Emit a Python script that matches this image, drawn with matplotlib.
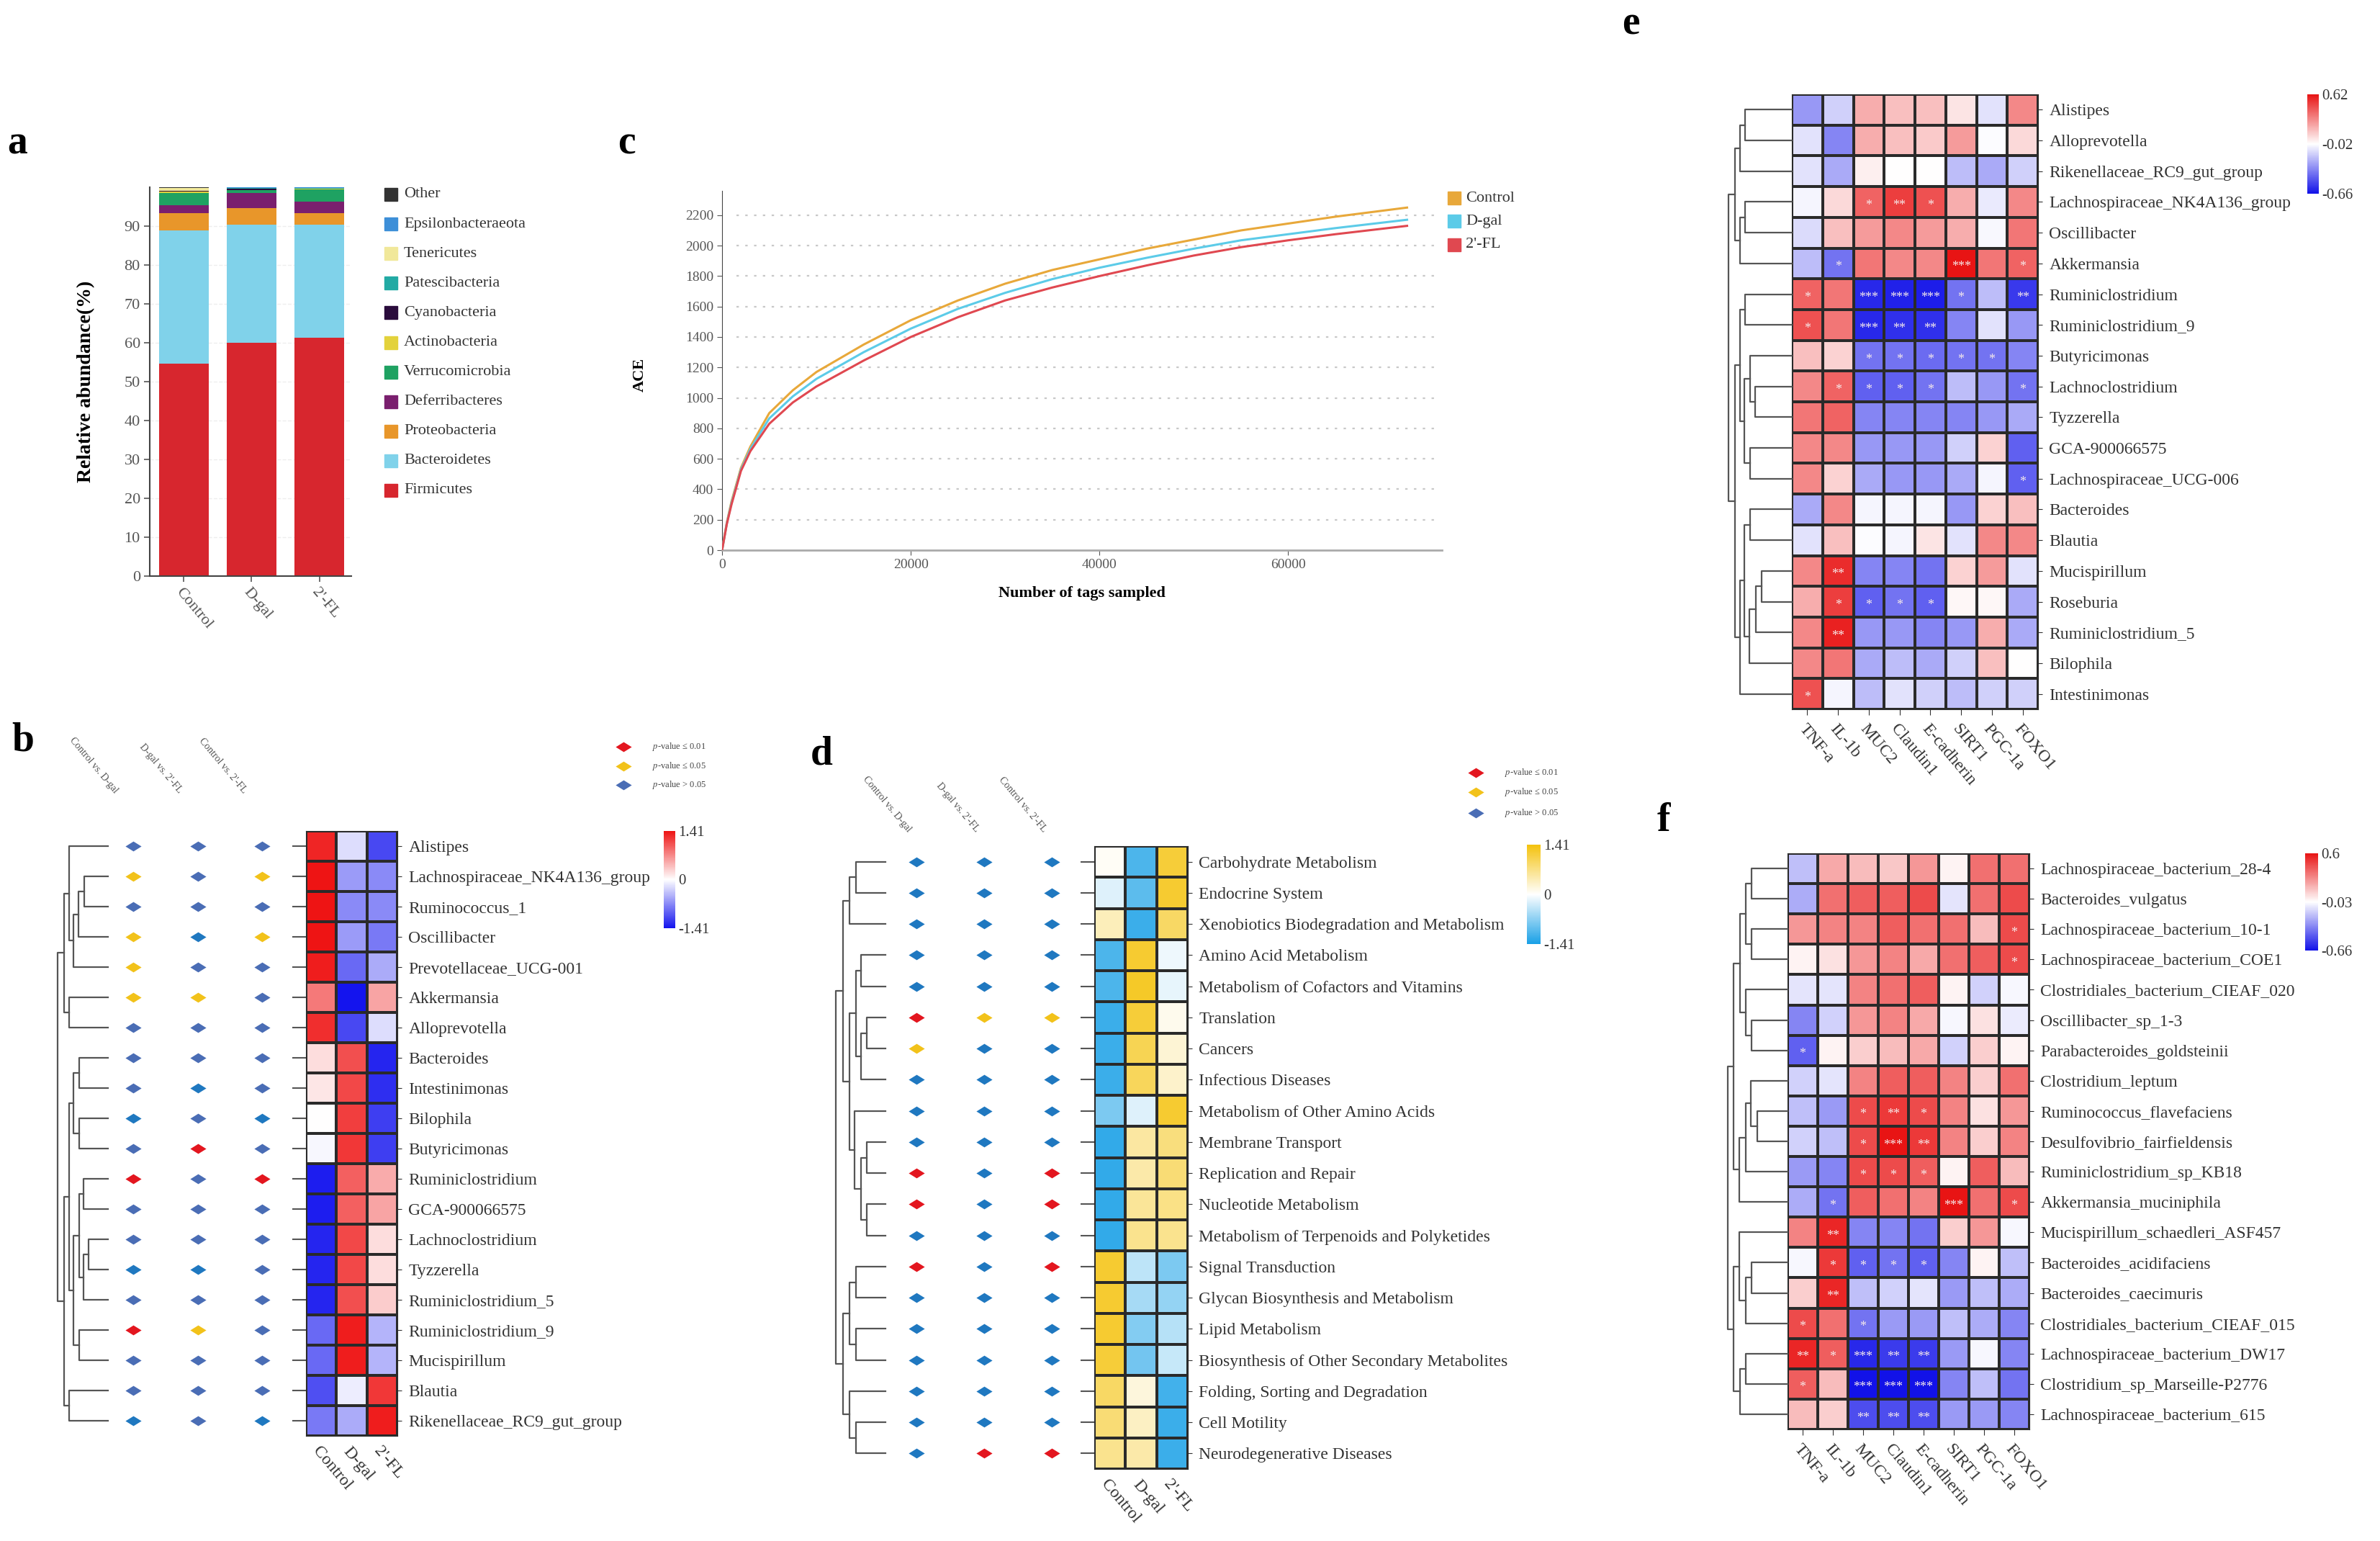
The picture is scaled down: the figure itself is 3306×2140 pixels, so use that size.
#importing modules
import numpy as np
import matplotlib
matplotlib.use('Agg')
import matplotlib.pyplot as plt
from matplotlib.colors import LinearSegmentedColormap, Normalize, TwoSlopeNorm
from matplotlib.cm import ScalarMappable
from matplotlib.patches import Rectangle

plt.rcParams['font.family'] = ['Liberation Serif', 'DejaVu Serif']
plt.rcParams['mathtext.fontset'] = 'stix'

# ---------------- data ----------------
groups = ['Control', 'D-gal', "2'-FL"]

# panel a: phylum relative abundance (%), bottom to top
phyla = ['Firmicutes', 'Bacteroidetes', 'Proteobacteria', 'Deferribacteres', 'Verrucomicrobia',
         'Actinobacteria', 'Cyanobacteria', 'Patescibacteria', 'Tenericutes', 'Epsilonbacteraeota', 'Other']
firmicutes = [54.6, 60.0, 61.3]
bacteroidetes = [34.3, 30.4, 29.0]
proteobacteria = [4.4, 4.2, 3.1]
deferribacteres = [2.0, 4.0, 2.9]
verrucomicrobia = [3.3, 0.6, 3.2]
actinobacteria = [0.3, 0.1, 0.1]
cyanobacteria = [0.1, 0.4, 0.1]
patescibacteria = [0.1, 0.1, 0.1]
tenericutes = [0.7, 0.1, 0.1]
epsilonbacteraeota = [0.1, 0.05, 0.05]
other = [0.1, 0.05, 0.05]
phylum_vals = [firmicutes, bacteroidetes, proteobacteria, deferribacteres, verrucomicrobia,
               actinobacteria, cyanobacteria, patescibacteria, tenericutes, epsilonbacteraeota, other]
phylum_colors = ['#d7262e', '#80d2ea', '#e8962a', '#7a1f6e', '#1fa262',
                 '#e3d23c', '#2a0c3c', '#22aaa4', '#f1e89a', '#3d8fd8', '#333333']

# panel c: ACE rarefaction
tags = [0, 500, 1000, 2000, 3000, 5000, 7500, 10000, 15000, 20000, 25000, 30000,
        35000, 40000, 45000, 50000, 55000, 60000, 65000, 72600]
ace_control = [0, 180, 320, 540, 680, 900, 1050, 1170, 1350, 1510, 1640, 1750,
               1840, 1910, 1980, 2040, 2100, 2145, 2190, 2250]
ace_dgal = [0, 175, 310, 530, 665, 865, 1010, 1125, 1300, 1455, 1585, 1690,
            1780, 1855, 1920, 1980, 2035, 2075, 2115, 2170]
ace_2fl = [0, 170, 300, 520, 650, 830, 970, 1075, 1245, 1400, 1530, 1640,
           1725, 1800, 1870, 1935, 1990, 2035, 2075, 2130]

# panel b: genus z-scores
rows_b = ['Alistipes', 'Lachnospiraceae_NK4A136_group', 'Ruminococcus_1', 'Oscillibacter',
          'Prevotellaceae_UCG-001', 'Akkermansia', 'Alloprevotella', 'Bacteroides', 'Intestinimonas',
          'Bilophila', 'Butyricimonas', 'Ruminiclostridium', 'GCA-900066575', 'Lachnoclostridium',
          'Tyzzerella', 'Ruminiclostridium_5', 'Ruminiclostridium_9', 'Mucispirillum', 'Blautia',
          'Rikenellaceae_RC9_gut_group']
b_control = [1.3, 1.4, 1.4, 1.4, 1.35, 0.8, 1.25, 0.2, 0.15, 0.0, -0.05, -1.35, -1.35, -1.3,
             -1.3, -1.3, -0.9, -0.9, -1.05, -0.8]
b_dgal = [-0.2, -0.6, -0.7, -0.6, -0.9, -1.4, -1.1, 1.05, 1.1, 1.15, 1.2, 0.95, 0.95, 1.1,
          1.1, 1.05, 1.35, 1.35, -0.1, -0.5]
b_2fl = [-1.1, -0.7, -0.7, -0.8, -0.5, 0.55, -0.2, -1.3, -1.25, -1.15, -1.15, 0.5, 0.55, 0.2,
         0.2, 0.3, -0.45, -0.45, 1.2, 1.35]
sig_b = ['bbb', 'yby', 'bbb', 'yty', 'ybb', 'yyb', 'bbb', 'bbb', 'btb', 'tbt',
         'brb', 'rbr', 'bbb', 'bbb', 'ttb', 'bbb', 'ryb', 'bbb', 'bbb', 'tbt']
tree_b = ((((0, (((1, 2, .47), 3, .58), 4, .68), .77)), (5, 6, .77), .87),
          ((((7, 8, .57), (9, 10, .57), .68),
            (((11, 12, .48), ((13, 14, .38), 15, .48), .57), (16, 17, .57), .68), .77),
           (18, 19, .77), .87), 1.0)

# panel d: KEGG pathway z-scores
rows_d = ['Carbohydrate Metabolism', 'Endocrine System', 'Xenobiotics Biodegradation and Metabolism',
          'Amino Acid Metabolism', 'Metabolism of Cofactors and Vitamins', 'Translation', 'Cancers',
          'Infectious Diseases', 'Metabolism of Other Amino Acids', 'Membrane Transport',
          'Replication and Repair', 'Nucleotide Metabolism', 'Metabolism of Terpenoids and Polyketides',
          'Signal Transduction', 'Glycan Biosynthesis and Metabolism', 'Lipid Metabolism',
          'Biosynthesis of Other Secondary Metabolites', 'Folding, Sorting and Degradation',
          'Cell Motility', 'Neurodegenerative Diseases']
d_control = [0.05, -0.2, 0.4, -1.1, -1.1, -1.2, -1.2, -1.2, -0.8, -1.25, -1.25, -1.25, -1.25,
             1.2, 1.2, 1.2, 1.15, 0.9, 0.8, 0.65]
d_dgal = [-1.1, -1.0, -1.2, 1.2, 1.25, 1.15, 1.0, 0.95, -0.2, 0.55, 0.5, 0.6, 0.65,
          -0.4, -0.55, -0.75, -0.85, 0.2, 0.35, 0.5]
d_2fl = [1.15, 1.2, 0.9, -0.1, -0.15, 0.1, 0.25, 0.3, 1.2, 0.75, 0.8, 0.7, 0.65,
         -0.8, -0.65, -0.45, -0.35, -1.15, -1.2, -1.2]
sig_d = ['ttt', 'ttt', 'ttt', 'ttt', 'ttt', 'ryy', 'ytt', 'ttt', 'ttt', 'ttt',
         'rtr', 'rtr', 'ttt', 'rtr', 'ttt', 'ttt', 'ttt', 'ttt', 'ttt', 'trr']
tree_d = ((((0, 1, .6), 2, .73),
           (((3, 4, .49), ((5, 6, .37), 7, .49), .6),
            (8, ((9, 10, .37), (11, 12, .37), .49), .63), .73), .86),
          ((((13, 14, .6), (15, 16, .6), .72)), (17, (18, 19, .6), .72), .86), 1.0)

# panels e, f: Spearman correlations with host genes
genes = ['TNF-a', 'IL-1b', 'MUC2', 'Claudin1', 'E-cadherin', 'SIRT1', 'PGC-1a', 'FOXO1']
rows_e = ['Alistipes', 'Alloprevotella', 'Rikenellaceae_RC9_gut_group', 'Lachnospiraceae_NK4A136_group',
          'Oscillibacter', 'Akkermansia', 'Ruminiclostridium', 'Ruminiclostridium_9', 'Butyricimonas',
          'Lachnoclostridium', 'Tyzzerella', 'GCA-900066575', 'Lachnospiraceae_UCG-006', 'Bacteroides',
          'Blautia', 'Mucispirillum', 'Roseburia', 'Ruminiclostridium_5', 'Bilophila', 'Intestinimonas']
corr_e = [[-0.3, -0.15, 0.2, 0.15, 0.15, 0.05, -0.1, 0.3],
          [-0.1, -0.35, 0.2, 0.15, 0.12, 0.25, -0.03, 0.08],
          [-0.1, -0.25, 0.02, -0.02, -0.02, -0.2, -0.25, -0.15],
          [-0.05, 0.08, 0.4, 0.5, 0.45, 0.2, -0.08, 0.3],
          [-0.12, 0.15, 0.25, 0.3, 0.25, 0.2, -0.04, 0.35],
          [-0.2, -0.4, 0.35, 0.3, 0.3, 0.62, 0.35, 0.4],
          [0.4, 0.35, -0.6, -0.62, -0.63, -0.4, -0.2, -0.55],
          [0.45, 0.35, -0.6, -0.58, -0.58, -0.35, -0.1, -0.3],
          [0.15, 0.1, -0.4, -0.4, -0.42, -0.4, -0.4, -0.35],
          [0.3, 0.4, -0.45, -0.45, -0.4, -0.2, -0.3, -0.4],
          [0.35, 0.4, -0.35, -0.35, -0.35, -0.35, -0.3, -0.25],
          [0.3, 0.3, -0.3, -0.3, -0.3, -0.15, 0.1, -0.45],
          [0.3, 0.1, -0.25, -0.3, -0.3, -0.25, -0.05, -0.45],
          [-0.25, 0.3, -0.05, -0.05, -0.05, -0.3, 0.1, 0.15],
          [-0.1, 0.15, -0.03, -0.05, 0.05, -0.1, 0.3, 0.3],
          [0.3, 0.55, -0.35, -0.35, -0.4, 0.1, 0.25, -0.1],
          [0.2, 0.5, -0.45, -0.4, -0.45, 0.0, 0.0, -0.25],
          [0.3, 0.58, -0.3, -0.3, -0.35, -0.3, 0.2, -0.25],
          [0.3, 0.35, -0.25, -0.2, -0.25, -0.15, 0.15, -0.02],
          [0.45, -0.05, -0.2, -0.1, -0.15, -0.2, -0.15, -0.15]]
stars_e = [(3, 2, '*'), (3, 3, '**'), (3, 4, '*'), (5, 1, '*'), (5, 5, '***'), (5, 7, '*'),
           (6, 0, '*'), (6, 2, '***'), (6, 3, '***'), (6, 4, '***'), (6, 5, '*'), (6, 7, '**'),
           (7, 0, '*'), (7, 2, '***'), (7, 3, '**'), (7, 4, '**'),
           (8, 2, '*'), (8, 3, '*'), (8, 4, '*'), (8, 5, '*'), (8, 6, '*'),
           (9, 1, '*'), (9, 2, '*'), (9, 3, '*'), (9, 4, '*'), (9, 7, '*'), (12, 7, '*'),
           (15, 1, '**'), (16, 1, '*'), (16, 2, '*'), (16, 3, '*'), (16, 4, '*'),
           (17, 1, '**'), (19, 0, '*')]
tree_e = ((((0, 1, .74), 2, .82), ((3, 4, .74), 5, .82), .9),
          (((6, 7, .74), ((8, (9, 10, .58), .66), (11, 12, .66), .75), .82),
           (((13, 14, .66), (((15, 16, .48), 17, .57), 18, .67), .75), 19, .82), .9), 1.0)

rows_f = ['Lachnospiraceae_bacterium_28-4', 'Bacteroides_vulgatus', 'Lachnospiraceae_bacterium_10-1',
          'Lachnospiraceae_bacterium_COE1', 'Clostridiales_bacterium_CIEAF_020', 'Oscillibacter_sp_1-3',
          'Parabacteroides_goldsteinii', 'Clostridium_leptum', 'Ruminococcus_flavefaciens',
          'Desulfovibrio_fairfieldensis', 'Ruminiclostridium_sp_KB18', 'Akkermansia_muciniphila',
          'Mucispirillum_schaedleri_ASF457', 'Bacteroides_acidifaciens', 'Bacteroides_caecimuris',
          'Clostridiales_bacterium_CIEAF_015', 'Lachnospiraceae_bacterium_DW17',
          'Clostridium_sp_Marseille-P2776', 'Lachnospiraceae_bacterium_615']
corr_f = [[-0.2, 0.2, 0.15, 0.12, 0.25, 0.0, 0.35, 0.35],
          [-0.25, 0.35, 0.4, 0.4, 0.45, -0.1, 0.35, 0.45],
          [0.25, 0.3, 0.3, 0.4, 0.35, 0.35, 0.15, 0.45],
          [0.0, 0.05, 0.25, 0.3, 0.2, 0.35, 0.4, 0.45],
          [-0.1, -0.1, 0.3, 0.35, 0.4, 0.0, -0.15, -0.05],
          [-0.35, -0.15, 0.25, 0.3, 0.2, -0.05, 0.05, -0.08],
          [-0.45, 0.0, 0.1, 0.15, 0.2, -0.15, 0.1, 0.0],
          [-0.15, -0.1, 0.3, 0.4, 0.4, 0.3, 0.1, 0.35],
          [-0.2, -0.3, 0.45, 0.5, 0.45, 0.3, 0.05, 0.25],
          [-0.15, -0.2, 0.45, 0.6, 0.5, 0.3, 0.1, 0.3],
          [-0.3, -0.35, 0.45, 0.45, 0.4, 0.0, 0.4, 0.15],
          [-0.25, -0.4, 0.4, 0.35, 0.3, 0.6, 0.35, 0.45],
          [0.3, 0.55, -0.35, -0.35, -0.4, 0.1, 0.25, -0.05],
          [-0.05, 0.5, -0.45, -0.4, -0.45, -0.35, 0.0, -0.2],
          [0.1, 0.55, -0.2, -0.15, -0.1, -0.3, -0.2, -0.25],
          [0.45, 0.35, -0.4, -0.3, -0.3, -0.2, -0.25, -0.35],
          [0.55, 0.4, -0.6, -0.55, -0.55, -0.3, -0.05, -0.35],
          [0.4, 0.15, -0.66, -0.66, -0.66, -0.35, -0.2, -0.4],
          [0.15, 0.1, -0.5, -0.5, -0.5, -0.3, -0.3, -0.35]]
stars_f = [(2, 7, '*'), (3, 7, '*'), (6, 0, '*'), (8, 2, '*'), (8, 3, '**'), (8, 4, '*'),
           (9, 2, '*'), (9, 3, '***'), (9, 4, '**'), (10, 2, '*'), (10, 3, '*'), (10, 4, '*'),
           (11, 1, '*'), (11, 5, '***'), (11, 7, '*'), (12, 1, '**'),
           (13, 1, '*'), (13, 2, '*'), (13, 3, '*'), (13, 4, '*'), (14, 1, '**'),
           (15, 0, '*'), (15, 2, '*'), (16, 0, '**'), (16, 1, '*'), (16, 2, '***'), (16, 3, '**'),
           (16, 4, '**'), (17, 0, '*'), (17, 2, '***'), (17, 3, '***'), (17, 4, '***'),
           (18, 2, '**'), (18, 3, '**'), (18, 4, '**')]
tree_f = (((((0, 1, .6), (2, 3, .6), .7), (4, (5, 6, .6), .7), .79),
           (((7, (8, 9, .51), .61), 10, .7), 11, .81), .9),
          ((12, ((13, 14, .6), 15, .7), .81), ((16, 17, .7), 18, .8), .9), 1.0)

# ---------------- figure ----------------
W, H = 3306, 2140
fig = plt.figure(figsize=(W / 100, H / 100), dpi=100)
fig.patch.set_facecolor('white')


def px_axes(l, t, r, b):
    return fig.add_axes([l / W, 1 - b / H, (r - l) / W, (b - t) / H])


def fig_text(x, y, s, **kw):
    return fig.text(x / W, 1 - y / H, s, **kw)


def draw_tree(ax, node):
    if not isinstance(node, tuple):
        return 0.0, node + 0.5
    a, b, h = node
    ha, ya = draw_tree(ax, a)
    hb, yb = draw_tree(ax, b)
    ax.plot([ha, h, h, hb], [ya, ya, yb, yb], color='#555555', lw=1.6, clip_on=False)
    return h, (ya + yb) / 2


def dend_axes(l, r, t, b, tree, n):
    ax = px_axes(l, t, r, b)
    draw_tree(ax, tree)
    ax.set_xlim(1.0, 0.0)
    ax.set_ylim(n, 0)
    ax.axis('off')
    return ax


def colorbar(box, cmap, norm, ticks, labels):
    cax = px_axes(*box)
    cb = fig.colorbar(ScalarMappable(norm=norm, cmap=cmap), cax=cax)
    cb.set_ticks(ticks, labels=labels)
    cb.outline.set_visible(False)
    cax.tick_params(length=0, labelsize=15, pad=3, colors='#333333')


panel_font = dict(fontsize=40, fontweight='bold', va='baseline', ha='left')
fig_text(10, 214, 'a', **panel_font)
fig_text(858, 214, 'c', **panel_font)
fig_text(16, 1042, 'b', **panel_font)
fig_text(1126, 1062, 'd', **panel_font)
fig_text(2253, 47, 'e', **panel_font)
fig_text(2302, 1154, 'f', **panel_font)

# ---------- panel a ----------
ax = px_axes(208, 260, 488, 800)
bottom = np.zeros(3)
for vals, col in zip(phylum_vals, phylum_colors):
    ax.bar(range(3), vals, 0.73, bottom=bottom, color=col, zorder=2)
    bottom += np.array(vals)
ax.set_xlim(-0.5, 2.47)
ax.set_ylim(0, 100)
ax.set_yticks(range(0, 100, 10))
ax.set_xticks(range(3))
ax.set_xticklabels(groups, rotation=-50, ha='left', rotation_mode='anchor')
ax.grid(axis='y', color='#eeeeee', lw=1, ls='--', zorder=0)
ax.tick_params(labelsize=16, colors='#555555', length=6, width=1.2)
for s in ['top', 'right']:
    ax.spines[s].set_visible(False)
for s in ['left', 'bottom']:
    ax.spines[s].set_color('#444444')
    ax.spines[s].set_linewidth(1.5)
fig_text(120, 530, 'Relative abundance(%)', rotation=90, fontsize=20, fontweight='bold',
         ha='center', va='center')
for i, (name, col) in enumerate(zip(phyla[::-1], phylum_colors[::-1])):
    y = 270 + i * 41.1
    fig.add_artist(Rectangle((534 / W, 1 - (y + 9) / H), 18 / W, 18 / H, color=col,
                             transform=fig.transFigure))
    fig_text(561, y, name, fontsize=16, va='center', color='#333333')

# ---------- panel c ----------
ax = px_axes(1003, 265, 2003, 764)
line_colors = ['#e8a83a', '#5ccbe8', '#e04850']
for vals, col in zip([ace_control, ace_dgal, ace_2fl], line_colors):
    ax.plot(tags, vals, color=col, lw=2.2, zorder=3)
ax.set_xlim(0, 76300)
ax.set_ylim(0, 2360)
ax.set_yticks(range(0, 2201, 200))
ax.set_xticks([0, 20000, 40000, 60000])
ax.hlines(range(200, 2201, 200), 1500, 75800, color='#c8c8c8', lw=1.6, ls=(0, (1.5, 4)), zorder=1)
ax.tick_params(labelsize=14, colors='#555555', length=5)
for s in ['top', 'right']:
    ax.spines[s].set_visible(False)
ax.spines['left'].set_color('#444444')
ax.spines['bottom'].set_color('#aaaaaa')
ax.spines['bottom'].set_linewidth(2)
fig_text(889, 520, 'ACE', rotation=90, fontsize=16, fontweight='bold', ha='center', va='center')
fig_text(1503, 824, 'Number of tags sampled', fontsize=16, fontweight='bold', ha='center', va='center')
for i, (name, col) in enumerate(zip(groups, line_colors)):
    y = 275 + i * 32.5
    fig.add_artist(Rectangle((2011 / W, 1 - (y + 9) / H), 18 / W, 18 / H, color=col,
                             transform=fig.transFigure))
    fig_text(2036, y, name, fontsize=16, va='center', color='#333333')

# ---------- panels b, d ----------
sig_colors = {'r': '#e3161f', 'y': '#f2c21a', 'b': '#4a6db5', 't': '#1f78c0'}
diamond = [(-1, 0), (0, 0.62), (1, 0), (0, -0.62), (-1, 0)]
headers = ['Control vs. D-gal', "D-gal vs. 2'-FL", "Control vs. 2'-FL"]


def group_panel(cols, rows, sig, tree, cmap, hm, dend, dia, hdr_dx, hdr_dy, leg, cbar, leg_blue):
    n = len(rows)
    l, t, r, b = hm
    data = np.array(cols).T
    norm = Normalize(-1.41, 1.41)
    ax = px_axes(l, t, r, b)
    ax.pcolormesh(data, cmap=cmap, norm=norm, edgecolors='#2a2a2a', linewidth=1.6)
    ax.set_ylim(n, 0)
    ax.set_yticks(np.arange(n) + 0.5)
    ax.set_yticklabels(rows)
    ax.yaxis.tick_right()
    ax.set_xticks(np.arange(3) + 0.5)
    ax.set_xticklabels(groups, rotation=-50, ha='left', rotation_mode='anchor')
    ax.tick_params(axis='y', length=4, pad=7, labelsize=17, colors='#333333')
    ax.tick_params(axis='x', length=0, pad=8, labelsize=17, colors='#333333')
    ax.hlines(np.arange(n) + 0.5, -19 / (r - l), 0, transform=ax.get_yaxis_transform(),
              color='#555555', lw=1.5, clip_on=False)
    for s in ax.spines.values():
        s.set_color('#2a2a2a')
    dend_axes(dend[0], dend[1], t, b, tree, n)
    dax = px_axes(dia[0], t, dia[1], b)
    for i, code in enumerate(sig):
        for j, c in enumerate(code):
            dax.plot(j, i + 0.5, marker=diamond, ms=16, color=sig_colors[c], mew=0)
    dax.set_xlim(-0.5, 2.5)
    dax.set_ylim(n, 0)
    dax.axis('off')
    step = (dia[1] - dia[0]) / 3
    for j, s in enumerate(headers):
        x = dia[0] + step * (j + 0.5)
        fig_text(x + hdr_dx, t + hdr_dy, s, rotation=-50, ha='right', va='bottom',
                 fontsize=10, color='#555555')
    lx, lys, tx = leg
    labs = [r'$p$-value ≤ 0.01', r'$p$-value ≤ 0.05', r'$p$-value > 0.05']
    for y, c, s in zip(lys, ['r', 'y', leg_blue], labs):
        fig.add_artist(plt.Line2D([lx / W], [1 - y / H], marker=diamond, ms=16, mew=0,
                                  color=sig_colors[c], transform=fig.transFigure))
        fig_text(tx, y, s, fontsize=9, va='center', color='#444444')
    colorbar(cbar, cmap, norm, [-1.41, 0, 1.41], ['-1.41', '0', '1.41'])


cmap_b = LinearSegmentedColormap.from_list('bwr_b', ['#1414ee', '#ffffff', '#ee1414'])
group_panel([b_control, b_dgal, b_2fl], rows_b, sig_b, tree_b, cmap_b,
            (425, 1154, 552, 1994), (80, 150), (140, 409), -19, -50,
            (866, [1037, 1064, 1090], 906), (922, 1154, 938, 1289), 'b')

cmap_d = LinearSegmentedColormap.from_list('byl_d', ['#19a0e6', '#ffffff', '#f4c20d'])
group_panel([d_control, d_dgal, d_2fl], rows_d, sig_d, tree_d, cmap_d,
            (1520, 1175, 1650, 2040), (1161, 1230), (1226, 1508), -5, -17,
            (2050, [1073, 1100, 1129], 2090), (2121, 1173, 2140, 1311), 'b')

# ---------- panels e, f ----------
cmap_ef = LinearSegmentedColormap.from_list('bwr_ef', ['#1212e8', '#ffffff', '#e81414'])


def corr_panel(corr, rows, stars, tree, hm, dend_l, cbar, vmin, vc, vmax, labels):
    n = len(rows)
    l, t, r, b = hm
    norm = TwoSlopeNorm(vcenter=vc, vmin=vmin, vmax=vmax)
    ax = px_axes(l, t, r, b)
    ax.pcolormesh(np.array(corr), cmap=cmap_ef, norm=norm, edgecolors='#2a2a2a', linewidth=1.6)
    ax.set_ylim(n, 0)
    ax.set_yticks(np.arange(n) + 0.5)
    ax.set_yticklabels(rows)
    ax.yaxis.tick_right()
    ax.set_xticks(np.arange(len(genes)) + 0.5)
    ax.set_xticklabels(genes, rotation=-50, ha='left', rotation_mode='anchor')
    ax.tick_params(axis='y', length=4, pad=7, labelsize=17, colors='#333333')
    ax.tick_params(axis='x', length=6, pad=6, labelsize=17, colors='#333333')
    for s in ax.spines.values():
        s.set_color('#2a2a2a')
    for i, j, s in stars:
        ax.text(j + 0.5, i + 0.62, s, ha='center', va='center', fontsize=13, color='#f6eaea')
    dend_axes(dend_l, l, t, b, tree, n)
    colorbar(cbar, cmap_ef, norm, [vmin, vc, vmax], labels)


corr_panel(corr_e, rows_e, stars_e, tree_e, (2489, 131, 2831, 985), 2401,
           (3205, 131, 3221, 269), -0.66, -0.02, 0.62, ['-0.66', '-0.02', '0.62'])
corr_panel(corr_f, rows_f, stars_f, tree_f, (2483, 1185, 2819, 1985), 2400,
           (3202, 1185, 3220, 1320), -0.66, -0.03, 0.6, ['-0.66', '-0.03', '0.6'])

fig.savefig('out.png', dpi=100, facecolor='white')
